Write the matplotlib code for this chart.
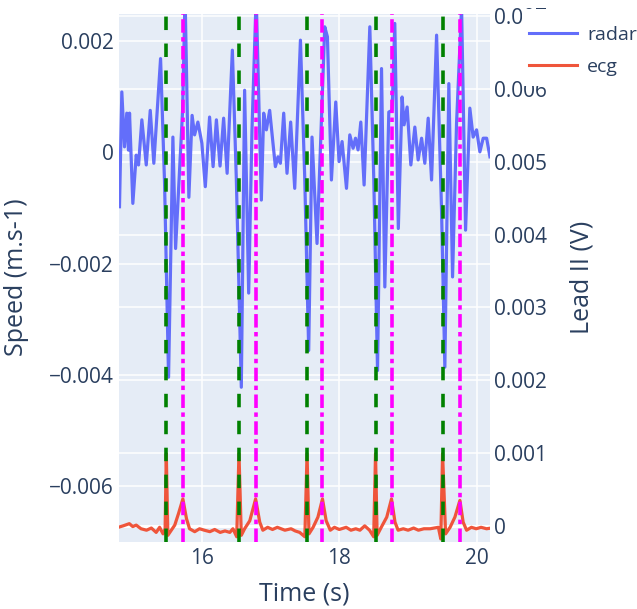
import matplotlib.pyplot as plt
from matplotlib.patches import Rectangle
from matplotlib.lines import Line2D
from matplotlib.transforms import blended_transform_factory

plt.rcParams['font.family'] = ['Open Sans', 'DejaVu Sans']
plt.rcParams['lines.scale_dashes'] = False

# radar speed trace (s, m/s)
radar_t = [14.807, 14.841, 14.880, 14.913, 14.938, 14.953, 15.001, 15.050, 15.084, 15.132,
           15.196, 15.254, 15.306, 15.404, 15.462, 15.520, 15.583, 15.622, 15.724, 15.760,
           15.815, 15.862, 15.898, 15.946, 16.004, 16.054, 16.116, 16.167, 16.215, 16.268,
           16.320, 16.371, 16.447, 16.505, 16.577, 16.625, 16.684, 16.732, 16.793, 16.868,
           16.902, 16.941, 16.989, 17.037, 17.072, 17.110, 17.145, 17.193, 17.241, 17.294,
           17.353, 17.436, 17.498, 17.556, 17.604, 17.677, 17.789, 17.828, 17.886, 17.949,
           17.997, 18.041, 18.105, 18.153, 18.201, 18.236, 18.273, 18.313, 18.361, 18.444,
           18.502, 18.556, 18.614, 18.662, 18.720, 18.768, 18.807, 18.858, 18.913, 18.942,
           18.986, 19.040, 19.098, 19.146, 19.196, 19.243, 19.292, 19.341, 19.414, 19.486,
           19.534, 19.592, 19.646, 19.704, 19.777, 19.835, 19.897, 19.945, 19.995, 20.043,
           20.091, 20.141, 20.189]
radar_speed = [-0.00098, 0.00108, 0.000095, 0.0007, 0.000036, 0.0007, -0.00092, -0.000054, -0.00023, 0.00058,
               -0.00023, 0.00075, -0.0002, 0.00168, -0.00056, -0.00404, 0.00027, -0.00173, 0.00075, 0.0028,
               -0.00081, 0.00066, 0.00031, 0.00054, 0.00016, -0.00062, 0.00063, -0.00026, 0.00058, -0.00025,
               0.00061, -0.00038, 0.00183, -0.0005, -0.00422, 0.00111, -0.00253, 0.0004, 0.0028, -0.00086,
               0.0007, 0.0004, 0.00075, 0.00016, -0.00026, -0.000084, -0.0002, 0.0007, -0.00038, 0.00054,
               -0.00065, 0.00201, -0.00044, -0.00356, 0.00027, -0.00164, 0.00225, 0.00207, -0.0005, 0.0009,
               -0.00017, 0.00019, -0.00065, 0.00031, 0.00007, 0.00025, 0.00004, 0.00054, -0.00059, 0.00225,
               -0.0005, -0.00392, 0.0015, -0.00242, 0.00072, 0.00075, 0.00231, -0.00137, 0.00099, 0.00049,
               0.00081, -0.00023, 0.00045, -0.00014, 0.00025, -0.0002, 0.00061, -0.0005, 0.0021, -0.00104,
               -0.00386, 0.00123, -0.00224, 0.00052, 0.0026, -0.0014, 0.00079, 0.00027, 0.0004, 0.000005,
               0.00025, 0.00025, -0.000084]

# ECG lead II (s, V)
ecg_t = [14.79, 14.86, 14.95, 15.00, 15.05, 15.12, 15.20, 15.27, 15.34, 15.39,
         15.44, 15.47, 15.487, 15.51, 15.56, 15.61, 15.665, 15.728, 15.78, 15.825,
         15.90, 15.97, 16.04, 16.12, 16.19, 16.27, 16.34, 16.41, 16.455, 16.51,
         16.543, 16.577, 16.625, 16.70, 16.785, 16.845, 16.89, 16.96, 17.03, 17.10,
         17.21, 17.30, 17.36, 17.425, 17.50, 17.532, 17.56, 17.62, 17.69, 17.756,
         17.81, 17.87, 17.93, 18.00, 18.10, 18.17, 18.24, 18.30, 18.37, 18.44,
         18.50, 18.527, 18.55, 18.61, 18.69, 18.759, 18.81, 18.855, 18.93, 19.00,
         19.08, 19.15, 19.23, 19.32, 19.44, 19.475, 19.501, 19.545, 19.61, 19.68,
         19.753, 19.80, 19.85, 19.92, 19.99, 20.06, 20.14, 20.21]
ecg_lead2 = [-0.00002, 0.0, 0.00003, -0.00001, 0.00001, -0.00004, -0.00006, -0.00003, -0.00009, -0.00002,
             -0.00011, -0.00004, 0.00099, -0.00013, -0.00006, 0.00001, 0.00017, 0.00037, 0.0001, -0.00004,
             -0.00008, -0.00004, -0.00006, -0.00008, -0.00005, -0.00009, -0.00007, -0.00009, -0.00004, -0.00015,
             0.00099, -0.00013, -0.00004, 0.00007, 0.00037, 0.00005, -0.00006, -0.00002, -0.00005, -0.00002,
             -0.00006, -0.00004, -0.00007, -0.00009, -0.00015, 0.00099, -0.00011, -0.00002, 0.00012, 0.00037,
             0.00007, -0.00006, -0.00002, -0.00005, -0.00002, -0.00006, -0.00004, -0.00006, 0.0, -0.00006,
             -0.00015, 0.00099, -0.00013, -0.00002, 0.00012, 0.00037, 0.00005, -0.00006, -0.00004, -0.00006,
             -0.00003, -0.00006, -0.00004, -0.00004, -0.00002, -0.00018, 0.00099, -0.00011, -0.00002, 0.00012,
             0.00035, 0.00005, -0.00006, -0.00002, -0.00004, -0.00002, -0.00004, -0.00003]

# detected beats
r_peaks = [15.487, 16.543, 17.532, 18.527, 19.501]
t_peaks = [15.728, 16.785, 17.756, 18.759, 19.753]

time_ticks = [16, 18, 20]
speed_ticks = [-0.006, -0.004, -0.002, 0, 0.002]
lead_ticks = [0, 0.001, 0.002, 0.003, 0.004, 0.005, 0.006, 0.007]

font_col = '#2a3f5f'
W, H = 637, 609


def fmt(v):
    return '0' if v == 0 else ('%.3f' % v).replace('-', '\u2212')


fig = plt.figure(figsize=(W / 100, H / 100), dpi=100)
ax = fig.add_axes([119 / W, 1 - 541.5 / H, (490 - 119) / W, (541.5 - 14) / H])
ax2 = ax.twinx()

ax.set_facecolor('#E5ECF6')
ax2.patch.set_visible(False)
for a in (ax, ax2):
    for s in a.spines.values():
        s.set_visible(False)

ax.set_xlim(14.80, 20.19)
ax.set_ylim(-0.00699, 0.00248)
ax2.set_ylim(-0.000215, 0.00703)

ax.set_xticks(time_ticks)
ax.set_xticklabels([str(t) for t in time_ticks])
ax.set_yticks(speed_ticks)
ax.set_yticklabels([fmt(v) for v in speed_ticks])
ax2.set_yticks(lead_ticks)
ax2.set_yticklabels([fmt(v) for v in lead_ticks])

ax.tick_params(axis='x', length=0, pad=5, labelsize=15, labelcolor=font_col)
ax.tick_params(axis='y', length=0, pad=3.6, labelsize=15, labelcolor=font_col)
ax2.tick_params(axis='y', length=0, pad=2.9, labelsize=15, labelcolor=font_col)

# grid for both y axes sits under the traces
ax.set_axisbelow(True)
ax.grid(True, color='white', lw=1.1)
ax2.grid(False)
ax.axhline(0, color='white', lw=2.2, zorder=1)
tr = blended_transform_factory(ax.transAxes, ax2.transData)
for v in lead_ticks:
    ax.plot([0, 1], [v, v], transform=tr, color='white', lw=2.2 if v == 0 else 1.1, zorder=0.8)

ax.plot(radar_t, radar_speed, color='#636EFA', lw=2.3, zorder=2)
ax2.plot(ecg_t, ecg_lead2, color='#EF553B', lw=2.3, zorder=2)

for t in r_peaks:
    ax2.axvline(t, color='green', lw=2.6, dashes=(9.7, 9.7), zorder=3)
for t in t_peaks:
    ax2.axvline(t, color='magenta', lw=2.6, dashes=(9.7, 3.2, 3.2, 3.2), zorder=3)

# legend sits on a white box over the right tick labels
fig.add_artist(Rectangle((522 / W, 1 - 86 / H), (W - 522) / W, 77 / H,
                         transform=fig.transFigure, facecolor='white', edgecolor='none', zorder=1))
handles = [Line2D([], [], color='#636EFA', lw=2.2), Line2D([], [], color='#EF553B', lw=2.2)]
fig.legend(handles, ['radar', 'ecg'], loc='upper left', bbox_to_anchor=(529 / W, 1 - 26 / H),
           frameon=False, borderpad=0, borderaxespad=0, handlelength=2.47, handletextpad=0.52,
           labelspacing=0.7, fontsize=14, labelcolor=font_col)

fig.text(16.5 / W, 1 - 277.5 / H, 'Speed (m.s-1)', rotation=90, ha='center', va='center',
         fontsize=18, color=font_col)
fig.text(582 / W, 1 - 277.5 / H, 'Lead II (V)', rotation=90, ha='center', va='center',
         fontsize=18, color=font_col)
fig.text(304.5 / W, 1 - 594 / H, 'Time (s)', ha='center', va='center', fontsize=18, color=font_col)

fig.savefig('out.png', dpi=100)
